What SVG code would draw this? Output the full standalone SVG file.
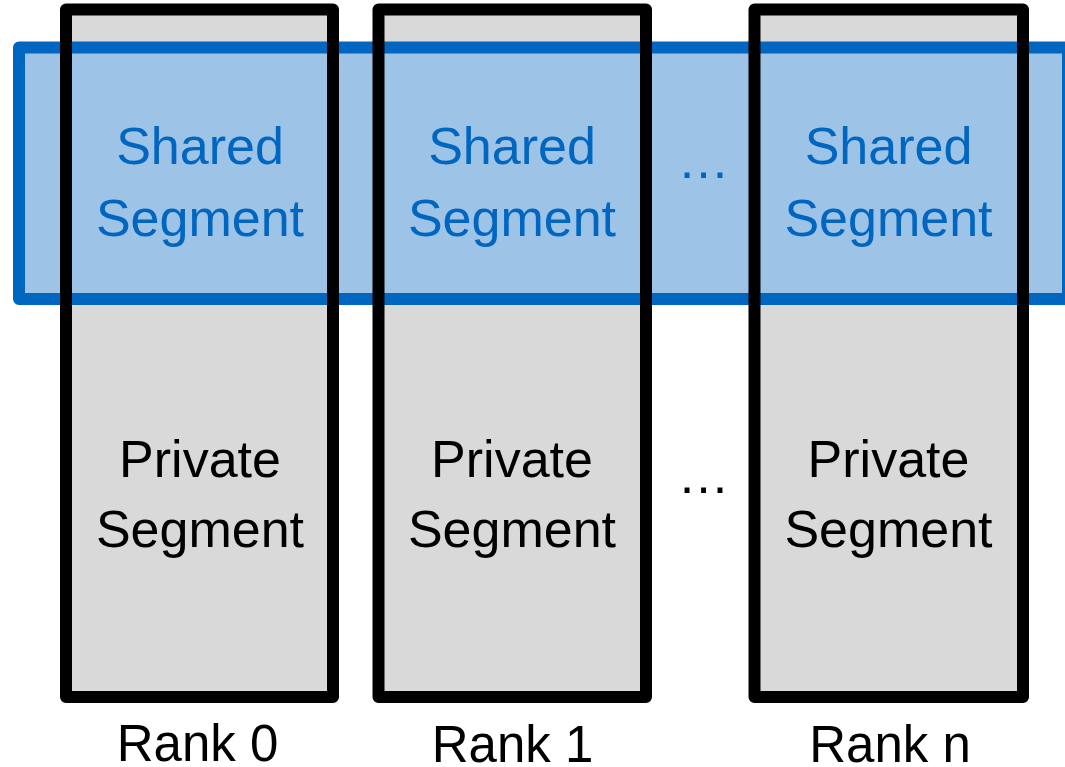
<svg xmlns="http://www.w3.org/2000/svg" width="1065" height="767" viewBox="0 0 1065 767">
<style>
.gray{fill:#d9d9d9;stroke:none}
.band{fill:#9dc3e6;stroke:#0066c0;stroke-width:12;stroke-linejoin:round}
.frame{fill:none;stroke:#000;stroke-width:12;stroke-linejoin:round}
text{font-family:"Liberation Sans",Arial,sans-serif;text-anchor:middle}
.sh{fill:#0066c0;font-size:52px}
.pv{fill:#000;font-size:52px}
.rk{fill:#000;font-size:51px}
</style>
<rect width="1065" height="767" fill="#fff"/>
<g id="gray-fills">
<rect class="gray" x="66" y="9.5" width="267" height="687.5"/>
<rect class="gray" x="378.5" y="9.5" width="267.5" height="687.5"/>
<rect class="gray" x="754.5" y="9.5" width="268.5" height="687.5"/>
</g>
<g id="shared-band">
<rect class="band" x="19" y="47.5" width="1049" height="251.5"/>
</g>
<g id="rank0">
<rect class="frame" x="66" y="9.5" width="267" height="687.5"/>
<text class="sh" x="200" y="164">Shared</text>
<text class="sh" x="200" y="236">Segment</text>
<text class="pv" x="200" y="477">Private</text>
<text class="pv" x="200" y="547">Segment</text>
<text class="rk" x="197.5" y="761">Rank 0</text>
</g>
<g id="rank1">
<rect class="frame" x="378.5" y="9.5" width="267.5" height="687.5"/>
<text class="sh" x="512" y="164">Shared</text>
<text class="sh" x="512" y="236">Segment</text>
<text class="pv" x="512" y="477">Private</text>
<text class="pv" x="512" y="547">Segment</text>
<text class="rk" x="512.5" y="762">Rank 1</text>
</g>
<g id="rankn">
<rect class="frame" x="754.5" y="9.5" width="268.5" height="687.5"/>
<text class="sh" x="888.5" y="164">Shared</text>
<text class="sh" x="888.5" y="236">Segment</text>
<text class="pv" x="888.5" y="477">Private</text>
<text class="pv" x="888.5" y="547">Segment</text>
<text class="rk" x="890" y="762">Rank n</text>
</g>
<g id="ellipses">
<text class="sh" x="703.5" y="178">…</text>
<text class="pv" x="703.5" y="492.5">…</text>
</g>
<g id="connectors"></g>
</svg>
